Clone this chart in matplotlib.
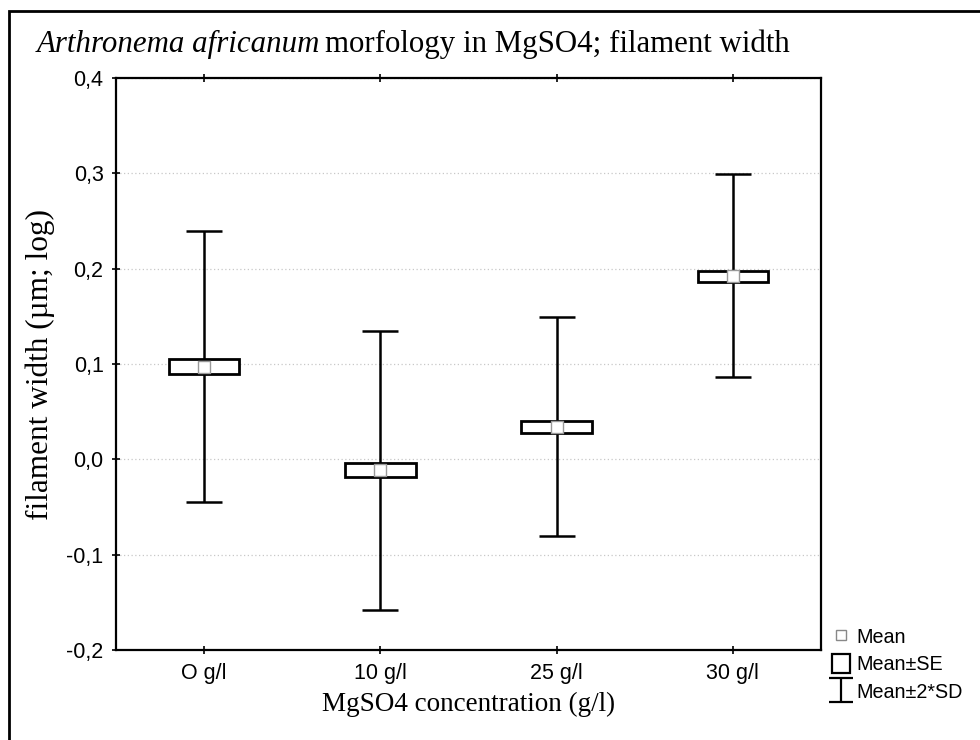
import matplotlib
matplotlib.use("Agg")
import matplotlib.pyplot as plt
from matplotlib.patches import Rectangle
from matplotlib.lines import Line2D
from matplotlib.path import Path
from matplotlib.ticker import FuncFormatter
import numpy as np

# data
categories = ["O g/l", "10 g/l", "25 g/l", "30 g/l"]
means = [0.097, -0.011, 0.034, 0.192]
se_low = [0.089, -0.019, 0.028, 0.186]
se_high = [0.105, -0.004, 0.040, 0.198]
sd2_low = [-0.045, -0.158, -0.080, 0.086]
sd2_high = [0.240, 0.135, 0.149, 0.299]

yticks = [-0.2, -0.1, 0.0, 0.1, 0.2, 0.3, 0.4]

serif = "Liberation Serif"
sans = "Liberation Sans"

fig = plt.figure(figsize=(9.8, 7.4), dpi=100)
ax = fig.add_axes([116 / 980, 1 - 650 / 740, 705 / 980, 572 / 740])

x = np.arange(len(categories))
means = np.array(means)
lo = means - np.array(sd2_low)
hi = np.array(sd2_high) - means

# whiskers (mean +- 2*SD)
ax.errorbar(x, means, yerr=[lo, hi], fmt="none", ecolor="black",
            elinewidth=1.8, capsize=13, capthick=1.8, zorder=2)

# boxes (mean +- SE)
ax.bar(x, np.array(se_high) - np.array(se_low), bottom=se_low,
       width=0.4, color="white", edgecolor="black", linewidth=2, zorder=3)

# mean markers
ax.scatter(x, means, marker="s", s=70, facecolor="white",
           edgecolor="#999999", linewidth=1.0, zorder=4)

ax.set_xlim(-0.5, 3.5)
ax.set_ylim(-0.2, 0.4)
ax.set_xticks(x)
ax.set_xticklabels(categories, fontfamily=sans, fontsize=15.5)
ax.set_yticks(yticks)
ax.yaxis.set_major_formatter(FuncFormatter(lambda v, p: f"{v:.1f}".replace(".", ",")))
for lab in ax.get_yticklabels():
    lab.set_fontfamily(sans)
    lab.set_fontsize(15.5)
ax.tick_params(direction="inout", length=6, width=1.2, top=True, right=False)
ax.tick_params(axis="y", pad=6)
ax.tick_params(axis="x", pad=6)

ax.grid(True, axis="y", linestyle=(0, (1, 2)), color="#c8c8c8", linewidth=0.9)
ax.set_axisbelow(True)
for s in ax.spines.values():
    s.set_linewidth(1.6)

ax.set_xlabel("MgSO4 concentration (g/l)", fontfamily=serif, fontsize=19.5, labelpad=6)
ax.set_ylabel("filament width (µm; log)", fontfamily=serif, fontsize=22.5, labelpad=8)

# legend
i_marker = Path([(-0.5, 0.5), (0.5, 0.5), (0, 0.5), (0, -0.5), (-0.5, -0.5), (0.5, -0.5)],
                [Path.MOVETO, Path.LINETO, Path.MOVETO, Path.LINETO, Path.MOVETO, Path.LINETO])
sd_handle = Line2D([], [], marker=i_marker, ls="none", ms=17, mec="black",
                   mfc="none", mew=1.6)
se_handle = Rectangle((0, 0), 1, 1, facecolor="white", edgecolor="black", linewidth=1.6)
mean_handle = Line2D([], [], marker="s", ls="none", ms=6.5, mfc="white", mec="#888888")
fig.legend([mean_handle, se_handle, sd_handle], ["Mean", "Mean±SE", "Mean±2*SD"],
           loc="lower left", bbox_to_anchor=(822 / 980, 1 - 712 / 740),
           frameon=False, prop={"family": sans, "size": 14.2},
           handlelength=0.9, handleheight=1.05, handletextpad=0.35,
           labelspacing=0.4, borderpad=0)

# title (italic species name + normal rest)
t1 = fig.text(37 / 980, 1 - 44 / 740, "Arthronema africanum", fontfamily=serif,
              fontstyle="italic", fontsize=22.2, va="center", ha="left")
fig.canvas.draw()
bb = t1.get_window_extent(renderer=fig.canvas.get_renderer())
fig.text(bb.x1 / fig.bbox.width + 5 / 980, 1 - 44 / 740,
         "morfology in MgSO4; filament width", fontfamily=serif,
         fontsize=22.2, va="center", ha="left")

# outer frame
fig.patches.append(Rectangle((9 / 980, -0.1), 1.2, 1.1 - 11 / 740,
                             transform=fig.transFigure, fill=False,
                             edgecolor="black", linewidth=2.0))

fig.savefig("out.png", dpi=100)
